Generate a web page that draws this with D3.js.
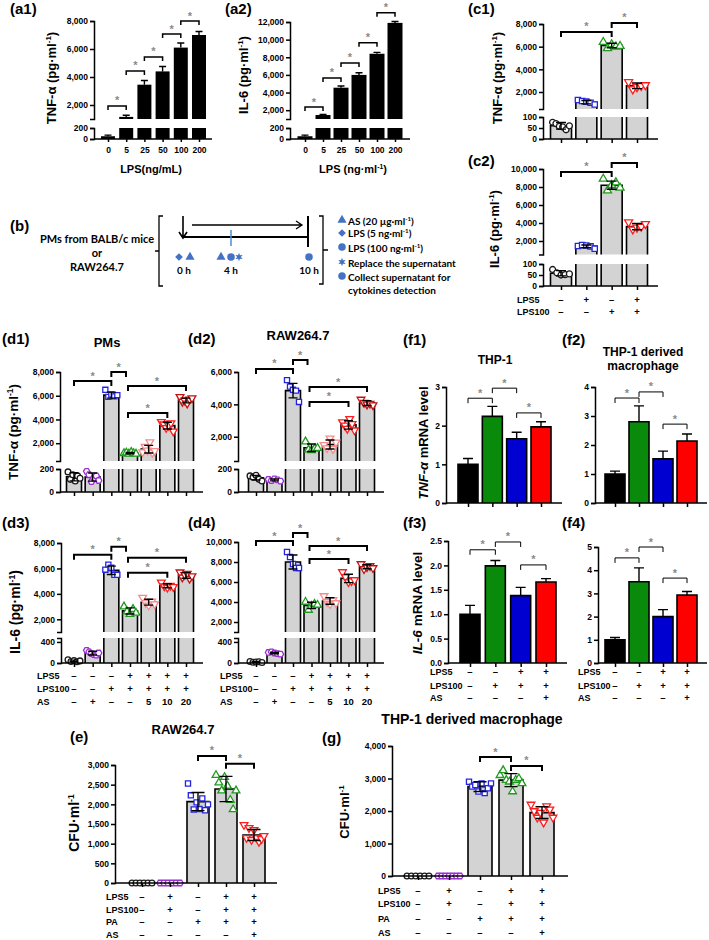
<!DOCTYPE html>
<html><head><meta charset="utf-8">
<script src="https://cdnjs.cloudflare.com/ajax/libs/d3/7.8.5/d3.min.js"></script>
<style>body{margin:0;background:#fff}svg{display:block}</style>
</head><body>
<svg id="fig" width="709" height="940"></svg>
<script>
// ================= DATA =================
const lpsDoses = ["0","5","25","50","100","200"];
const a1Tnf    = [50, 1150, 3450, 4400, 6100, 7000];
const a1TnfErr = [20, 120, 300, 350, 330, 250];
const a2Il6    = [50, 1450, 4550, 6000, 8400, 11900];
const a2Il6Err = [20, 80, 200, 250, 150, 150];
const a1Brackets = [[0,1,1930],[1,2,4430],[2,3,5430],[3,4,7070],[4,5,8000]];
const a2Brackets = [[0,1,2360],[1,2,5660],[2,3,7360],[3,4,9640],[4,5,13050]];

const cLps5   = ["–","+","–","+"];
const cLps100 = ["–","–","+","+"];
const c1Mean = [60, 1100, 6100, 2550];
const c1Sd   = [15, 150, 200, 250];
const c1Points = [[76,70,58,55,42,60],[1300,1200,1150,1050,900],[6400,5850,6200,6000,6050],[2880,2240,2440,2540,2610]];
const c2Mean = [58, 1400, 8200, 3600];
const c2Sd   = [12, 150, 450, 350];
const c2Points = [[75,60,50,52,55],[1450,1550,1500,1400,1150],[8900,7600,8200,8500,7900],[4100,3300,3500,3600,3900]];
const c1Brackets = [[0,2,7300],[2,3,8090]];
const c2Brackets = [[0,2,9670],[2,3,10670]];

const dLps5   = ["–","–","–","+","+","+","+"];
const dLps100 = ["–","–","+","+","+","+","+"];
const dAs     = ["–","+","–","–","5","10","20"];
const d1Mean = [132, 130, 6050, 1160, 1500, 3480, 5600];
const d1Sd   = [35, 35, 250, 60, 320, 280, 200];
const d1Points = [[175,110,150,95,140,120],[180,150,90,120,140,100],[6500,5900,6100,5950,6050],[1150,1200,1100,1250,1150,1100],[1250,1700,1400,2100,1200,1350],[3800,3600,3300,3500,3700,3000],[5900,5500,5600,5350,5700,5800]];
const d2Mean = [124, 105, 4850, 1320, 1520, 2730, 4080];
const d2Sd   = [20, 8, 450, 230, 280, 260, 150];
const d2Points = [[140,130,145,110,95],[110,100,115,105,95],[5500,5100,4900,4850,4150],[1700,1200,1150,1250,1300],[1500,1300,1900,1250,1650],[2900,2700,2500,3100,2800,2400],[4300,4100,4000,4050,3950]];
const d3Mean = [40, 188, 5850, 2660, 3340, 4640, 5450];
const d3Sd   = [15, 35, 330, 240, 230, 160, 220];
const d3Points = [[60,30,45,25,40],[240,210,180,160,150,190],[5900,6300,6050,5500,5500],[3000,2600,2400,2800,2500],[3700,3300,3100,3400,3200],[4900,4600,4500,4650,4550],[5700,5300,5500,5600,5200,5400]];
const d4Mean = [20, 190, 8000, 3660, 4100, 6360, 7520];
const d4Sd   = [8, 15, 700, 320, 330, 420, 200];
const d4Points = [[30,15,20,25,10],[200,210,190,180,170],[9000,8500,7800,7400,7400],[4000,3200,3600,3800,3700],[4600,4000,3800,4200,3900],[7000,6500,6000,6100,6200],[7800,7300,7500,7600,7400]];
const d1Brackets = [[0,2,7240],[2,3,8000],[3,6,6820],[3,5,4540]];
const d2Brackets = [[0,2,6190],[2,3,6740],[3,6,5070],[3,5,4150]];
const d3Brackets = [[0,2,7080],[2,3,7710],[3,6,6840],[3,5,5660]];
const d4Brackets = [[0,2,10100],[2,3,10900],[3,6,9600],[3,5,8300]];

const fLps5   = ["–","–","+","+"];
const fLps100 = ["–","+","+","+"];
const fAs     = ["–","–","–","+"];
const f1Mean = [1.0, 2.24, 1.66, 1.97]; const f1Err = [0.15, 0.26, 0.17, 0.13];
const f2Mean = [1.0, 2.8, 1.52, 2.14];  const f2Err = [0.1, 0.55, 0.27, 0.24];
const f3Mean = [1.0, 1.99, 1.38, 1.66]; const f3Err = [0.18, 0.11, 0.17, 0.07];
const f4Mean = [1.0, 3.5, 2.0, 2.93];   const f4Err = [0.1, 0.6, 0.3, 0.15];
const f1Brackets = [[0,1,2.71],[1,2,2.97],[2,3,2.33]];
const f2Brackets = [[0,1,3.62],[1,2,3.83],[2,3,2.72]];
const f3Brackets = [[0,1,2.32],[1,2,2.48],[2,3,2.01]];
const f4Brackets = [[0,1,4.53],[1,2,5.0],[2,3,3.66]];

const egLps5   = ["–","+","–","+","+"];
const egLps100 = ["–","+","–","+","+"];
const egPa     = ["–","–","+","+","+"];
const egAs     = ["–","–","–","–","+"];
const eMean = [0, 0, 2070, 2390, 1220];
const eSd   = [0, 0, 230, 320, 140];
const ePoints = [[0,0,0,0,0,0],[0,0,0,0,0,0],[2530,2230,1870,2050,1880,2150,1850,2000],[2740,2550,2350,2690,2470,2110,1870,2350],[1480,1150,1400,1100,1350,1150,1050,1120,1200]];
const gMean = [0, 0, 2750, 2950, 1950];
const gSd   = [0, 0, 150, 200, 180];
const gPoints = [[0,0,0,0,0,0],[0,0,0,0,0,0,0],[2900,2750,2800,2600,2850,2550,2700,2850],[3100,3250,2950,2900,2600,2950,3000,2850],[2200,2000,1800,1950,1650,2150,2050,1800]];
const eBrackets = [[2,3,3230],[3,4,3030]];
const gBrackets = [[2,3,3660],[3,4,3385]];

// ================= DRAWING =================
const svg = d3.select("#fig");
const FONT = '"Liberation Sans", Arial, Helvetica, sans-serif';
const BFONT = 'Lato, "Liberation Sans", sans-serif';
const COL = {black:"#1a1a1a", purple:"#9b30d0", blue:"#2424e0", green:"#1f9a1f", pink:"#f48c8c", red:"#ff1c1c", dred:"#c41212"};
const STAR = "#8a8a8a";

function addText(x, y, str, size, opt = {}) {
  return svg.append("text").attr("x", x).attr("y", y).attr("font-size", size)
    .attr("text-anchor", opt.anchor || "start").attr("font-family", opt.family || FONT)
    .attr("font-weight", opt.weight || "bold").attr("fill", opt.fill || "#000").text(str);
}
function richText(t, parts, size) {
  let shifted = false;
  parts.forEach(p => {
    const ts = t.append("tspan").text(p.t);
    if (p.sup) { ts.attr("dy", -size * 0.38).attr("font-size", size * 0.62); shifted = true; }
    else if (shifted) { ts.attr("dy", size * 0.38); shifted = false; }
    if (p.i) ts.attr("font-style", "italic");
  });
}
function yLabel(x, y, parts, size) {
  const t = svg.append("text").attr("transform", `translate(${x},${y}) rotate(-90)`)
    .attr("text-anchor", "middle").attr("font-size", size).attr("font-family", FONT).attr("font-weight", "bold");
  richText(t, parts, size);
}
const hexType = {draw(ctx, size) { const r = Math.sqrt(size / 2.598);
  for (let k = 0; k < 6; k++) { const a = k * Math.PI / 3, px = r * Math.cos(a), py = r * Math.sin(a); k ? ctx.lineTo(px, py) : ctx.moveTo(px, py); } ctx.closePath(); }};
const star6 = {draw(ctx, size) { const r = Math.sqrt(size) * 0.7, r2 = r * 0.45;
  for (let k = 0; k < 12; k++) { const a = k * Math.PI / 6 - Math.PI / 2, rr = k % 2 ? r2 : r; const px = rr * Math.cos(a), py = rr * Math.sin(a); k ? ctx.lineTo(px, py) : ctx.moveTo(px, py); } ctx.closePath(); }};
const shapeMap = {circle:[d3.symbolCircle,0], square:[d3.symbolSquare,0], tri:[d3.symbolTriangle,0], dtri:[d3.symbolTriangle,180], hex:[hexType,0], diamond:[d3.symbolSquare,45], star:[star6,0]};
function marker(g, shape, x, y, size, color, filled) {
  const [type, rot] = shapeMap[shape];
  const p = g.append("path").attr("d", d3.symbol().type(type).size(size)())
    .attr("transform", `translate(${x},${y}) rotate(${rot})`);
  if (filled) p.attr("fill", color).attr("stroke", "none");
  else p.attr("fill", "#fff").attr("stroke", color).attr("stroke-width", 1.3);
}

function drawPanel(c) {
  const g = svg.append("g");
  const n = c.values.length;
  const x = d3.scalePoint().domain(d3.range(n)).range(c.xr);
  const yU = d3.scaleLinear().domain(c.upper.d).range(c.upper.r);
  const yL = c.lower ? d3.scaleLinear().domain(c.lower.d).range(c.lower.r) : null;
  const lowMax = yL ? c.lower.d[1] : null;
  const Y = v => (yL && v <= lowMax) ? yL(v) : yU(v);
  const y0 = yL ? yL(0) : yU(0);
  const bw = c.bw;
  // bars
  c.values.forEach((v, i) => {
    if (v <= 0) return;
    const cx = x(i), L = cx - bw / 2, R = cx + bw / 2;
    const fill = c.fills ? c.fills[i] : c.fill;
    const segs = [];
    if (yL) {
      const tv = Math.min(v, lowMax);
      segs.push({top: yL(tv), bot: yL(0), closed: v <= lowMax});
      if (v > lowMax) segs.push({top: yU(v), bot: yU(c.upper.d[0]), closed: true});
    } else segs.push({top: yU(v), bot: yU(0), closed: true});
    segs.forEach(s => {
      g.append("rect").attr("x", L).attr("y", s.top).attr("width", bw).attr("height", s.bot - s.top).attr("fill", fill);
      if (c.outline) {
        const p = s.closed ? `M${L},${s.bot}V${s.top}H${R}V${s.bot}` : `M${L},${s.bot}V${s.top}M${R},${s.top}V${s.bot}`;
        g.append("path").attr("d", p).attr("fill", "none").attr("stroke", "#000").attr("stroke-width", 1.6);
      }
    });
  });
  // points
  if (c.points) c.points.forEach((pts, i) => {
    const w = c.spread || bw * 0.8;
    pts.forEach((v, k) => {
      const off = pts.length > 1 ? -w / 2 + k * w / (pts.length - 1) : 0;
      marker(g, c.shapes[i], x(i) + off, Y(v), c.msize || 30, c.colors[i], false);
    });
  });
  // error bars
  c.values.forEach((v, i) => {
    const e = c.err[i]; if (!e) return;
    const cx = x(i), hw = c.cap / 2;
    const yt = Y(v + e), yb = c.errMode === "both" ? Y(Math.max(0, v - e)) : Y(v);
    let d = `M${cx},${yb}V${yt}M${cx - hw},${yt}H${cx + hw}`;
    if (c.errMode === "both") d += `M${cx - hw},${yb}H${cx + hw}`;
    g.append("path").attr("d", d).attr("fill", "none").attr("stroke", "#000").attr("stroke-width", 1.4);
  });
  // y axes
  const fmt = c.fmt || d3.format(",");
  g.append("g").attr("transform", `translate(${c.ax},0)`)
    .call(d3.axisLeft(yU).tickValues(c.upper.t).tickFormat(fmt).tickSize(4).tickPadding(2));
  if (yL) g.append("g").attr("transform", `translate(${c.ax},0)`)
    .call(d3.axisLeft(yL).tickValues(c.lower.t).tickFormat(fmt).tickSize(4).tickPadding(2));
  // x axis
  g.append("line").attr("x1", c.ax).attr("x2", c.xEnd).attr("y1", y0).attr("y2", y0)
    .attr("stroke", "#000").attr("stroke-width", 1.6);
  const xa = g.append("g").attr("transform", `translate(0,${y0})`)
    .call(d3.axisBottom(x).tickSize(c.xlabels ? 3 : 4).tickPadding(5).tickFormat(c.xlabels ? (i => c.xlabels[i]) : () => ""));
  xa.select(".domain").remove();
  g.selectAll(".domain, .tick line").attr("stroke", "#000").attr("stroke-width", 1.5);
  g.selectAll(".tick text").attr("font-size", c.tickFont || 8.5).attr("font-family", FONT).attr("font-weight", "bold").attr("fill", "#000");
  // brackets
  (c.brackets || []).forEach(([i, j, lev]) => {
    const yb = yU(lev);
    const x1 = x(i), x2 = x(j) - (c.bShift && j === i + 1 && i === 2 && n === 7 ? 4 : 0);
    const x1b = (n === 7 && i === 3) ? x1 - 2 : x1;
    g.append("path").attr("d", `M${x1b},${yb + c.drop}V${yb}H${x2}V${yb + c.drop}`)
      .attr("fill", "none").attr("stroke", "#000").attr("stroke-width", c.bW);
    g.append("text").attr("x", (x1b + x2) / 2).attr("y", yb - 1.5).attr("text-anchor", "middle")
      .attr("font-size", 11).attr("font-family", FONT).attr("font-weight", "bold").attr("fill", STAR).text("*");
  });
  // sign rows
  (c.rows || []).forEach(r => {
    addText(c.rowX, r.y, r.label, 9);
    r.vals.forEach((s, i) => addText(x(i), r.y, s, 9.5, {anchor: "middle"}));
  });
  return {x, yU, yL};
}

const pgml = lab => [{t: lab + " (pg·ml"}, {t: "-1", sup: true}, {t: ")"}];

// ---------- (a1) (a2) ----------
addText(10, 14, "(a1)", 15);
drawPanel({values: a1Tnf, err: a1TnfErr, errMode: "up", xr: [108, 199], bw: 14, ax: 94, xEnd: 212,
  upper: {d: [1000, 8000], r: [119, 21], t: [2000, 4000, 6000, 8000]},
  lower: {d: [0, 200], r: [139, 128], t: [0, 200]},
  fill: "#000", cap: 7, brackets: a1Brackets, drop: 4, bW: 1.5, xlabels: lpsDoses, tickFont: 8.5});
yLabel(56, 78, pgml("TNF-α"), 13);
addText(151, 173, "LPS(ng/mL)", 11, {anchor: "middle"});

addText(225, 14, "(a2)", 15);
drawPanel({values: a2Il6, err: a2Il6Err, errMode: "up", xr: [305, 395], bw: 15, ax: 290, xEnd: 410,
  upper: {d: [1000, 12000], r: [119, 22], t: [2000, 4000, 6000, 8000, 10000, 12000]},
  lower: {d: [0, 200], r: [139, 128], t: [0, 200]},
  fill: "#000", cap: 7, brackets: a2Brackets, drop: 4, bW: 1.5, xlabels: lpsDoses});
yLabel(248, 75, pgml("IL-6"), 13);
(() => { const t = svg.append("text").attr("x", 353).attr("y", 173).attr("text-anchor", "middle")
  .attr("font-size", 11).attr("font-family", FONT).attr("font-weight", "bold");
  richText(t, [{t: "LPS (ng·ml"}, {t: "-1", sup: true}, {t: ")"}], 11); })();

// ---------- (c1) (c2) ----------
const cShapes = ["circle", "square", "tri", "dtri"];
const cColors = [COL.black, COL.blue, COL.green, COL.red];
addText(468, 14, "(c1)", 15);
drawPanel({values: c1Mean, err: c1Sd, errMode: "both", points: c1Points, shapes: cShapes, colors: cColors,
  xr: [561, 637], bw: 21, ax: 543, xEnd: 658,
  upper: {d: [500, 8000], r: [109, 24], t: [2000, 4000, 6000, 8000]},
  lower: {d: [0, 100], r: [139, 117], t: [0, 50, 100]},
  fill: "#d3d3d3", outline: true, cap: 10, brackets: c1Brackets, drop: 5, bW: 2, msize: 28});
yLabel(502, 78, pgml("TNF-α"), 13);
addText(468, 166, "(c2)", 15);
drawPanel({values: c2Mean, err: c2Sd, errMode: "both", points: c2Points, shapes: cShapes, colors: cColors,
  xr: [561, 637], bw: 21, ax: 543, xEnd: 658,
  upper: {d: [500, 10000], r: [254.5, 169], t: [2000, 4000, 6000, 8000, 10000]},
  lower: {d: [0, 100], r: [286, 264], t: [0, 50, 100]},
  fill: "#d3d3d3", outline: true, cap: 10, brackets: c2Brackets, drop: 5, bW: 2, msize: 28,
  rowX: 517, rows: [{label: "LPS5", vals: cLps5, y: 303}, {label: "LPS100", vals: cLps100, y: 315}]});
yLabel(499, 229, pgml("IL-6"), 13);

// ---------- (b) ----------
addText(10, 231, "(b)", 15);
const bBlue = "#4472c4";
const lineB = (d, w, col) => svg.append("path").attr("d", d).attr("fill", "none").attr("stroke", col || "#000").attr("stroke-width", w);
lineB("M163,216H159V286H163M159,251H155", 1.3);
lineB("M319,216H323V284H319M323,250H328", 1.3);
[["PMs from BALB/c mice", 243], ["or", 257], ["RAW264.7", 271]].forEach(([s, y]) => addText(97, y, s, 11, {anchor: "middle", family: BFONT}));
lineB("M183,216V238M179,232L183,238L187,232", 1.6);
lineB("M192,225H302M296,221L302,225L296,229", 1.3);
lineB("M183,237H308", 1.8);
lineB("M308,216V247", 2);
lineB("M231,230V246", 1.5, "#4a8fd6");
[["diamond", 179], ["tri", 190], ["tri", 221], ["circle", 231], ["star", 239], ["circle", 309]].forEach(([s, x]) => {
  const g = svg.append("g"); marker(g, s, x, 257, s === "circle" ? 45 : (s === "diamond" ? 30 : 36), bBlue, true); });
[["0 h", 184], ["4 h", 231], ["10 h", 309]].forEach(([s, x]) => addText(x, 274, s, 10, {anchor: "middle", family: BFONT}));
const legendB = [
  ["tri", 220, 224.5, [{t: "AS (20 µg·ml"}, {t: "-1", sup: true}, {t: ")"}]],
  ["diamond", 233, 236.5, [{t: "LPS (5 ng·ml"}, {t: "-1", sup: true}, {t: ")"}]],
  ["circle", 247, 251.5, [{t: "LPS (100 ng·ml"}, {t: "-1", sup: true}, {t: ")"}]],
  ["star", 262, 266.5, [{t: "Replace the supernatant"}]],
  ["circle", 276, 280.5, [{t: "Collect supernatant for"}]],
  [null, 0, 293.5, [{t: "cytokines detection"}]]
];
legendB.forEach(([s, my, ty, parts]) => {
  if (s) { const g = svg.append("g"); marker(g, s, 342, my, s === "circle" ? 45 : (s === "diamond" ? 30 : 36), bBlue, true); }
  const t = svg.append("text").attr("x", 348).attr("y", ty).attr("font-size", 10).attr("font-family", BFONT).attr("font-weight", "bold");
  richText(t, parts, 10);
});

// ---------- (d) ----------
const dShapes = ["circle", "hex", "square", "tri", "dtri", "dtri", "dtri"];
const dColors = [COL.black, COL.purple, COL.blue, COL.green, COL.pink, COL.red, COL.dred];
const dCommon = {errMode: "both", shapes: dShapes, colors: dColors, bw: 15, fill: "#d3d3d3", outline: true, cap: 9, drop: 5, bW: 2, msize: 26, bShift: true};
addText(2, 344, "(d1)", 15);
addText(107, 347, "PMs", 13, {anchor: "middle"});
drawPanel(Object.assign({}, dCommon, {values: d1Mean, err: d1Sd, points: d1Points, xr: [74, 186], ax: 60, xEnd: 203,
  upper: {d: [500, 8000], r: [461, 372], t: [2000, 4000, 6000, 8000]},
  lower: {d: [0, 200], r: [492, 469], t: [0, 200]}, brackets: d1Brackets}));
yLabel(18, 432, pgml("TNF-α"), 13.5);
addText(188, 344, "(d2)", 15);
addText(298, 340, "RAW264.7", 13, {anchor: "middle"});
drawPanel(Object.assign({}, dCommon, {values: d2Mean, err: d2Sd, points: d2Points, xr: [256, 367], ax: 238, xEnd: 384,
  upper: {d: [500, 6000], r: [461, 372], t: [2000, 4000, 6000]},
  lower: {d: [0, 200], r: [492, 469], t: [0, 200]}, brackets: d2Brackets}));
addText(2, 528, "(d3)", 15);
drawPanel(Object.assign({}, dCommon, {values: d3Mean, err: d3Sd, points: d3Points, xr: [74, 186], ax: 61, xEnd: 203,
  upper: {d: [1000, 8000], r: [632, 543], t: [2000, 4000, 6000, 8000]},
  lower: {d: [0, 475], r: [663, 638], t: [0, 400]}, brackets: d3Brackets,
  rowX: 37, rows: [{label: "LPS5", vals: dLps5, y: 679}, {label: "LPS100", vals: dLps100, y: 692}, {label: "AS", vals: dAs, y: 705}]}));
yLabel(20, 612, pgml("IL-6"), 14);
addText(188, 528, "(d4)", 15);
drawPanel(Object.assign({}, dCommon, {values: d4Mean, err: d4Sd, points: d4Points, xr: [256, 367], ax: 238, xEnd: 384,
  upper: {d: [1000, 10000], r: [632, 542], t: [2000, 4000, 6000, 8000, 10000]},
  lower: {d: [0, 475], r: [663, 638], t: [0, 400]}, brackets: d4Brackets,
  rowX: 220, rows: [{label: "LPS5", vals: dLps5, y: 679}, {label: "LPS100", vals: dLps100, y: 692}, {label: "AS", vals: dAs, y: 705}]}));

// ---------- (f) ----------
const fFills = ["#000000", "#0a8a0a", "#0000d0", "#ff0000"];
const fCommon = {errMode: "up", bw: 20, fills: fFills, outline: true, cap: 10, drop: 5, bW: 1};
addText(403, 345, "(f1)", 15);
addText(495, 364, "THP-1", 12, {anchor: "middle"});
drawPanel(Object.assign({}, fCommon, {values: f1Mean, err: f1Err, xr: [468, 541], ax: 446, xEnd: 562,
  upper: {d: [0, 3], r: [503, 387], t: [0, 1, 2, 3]}, fmt: d3.format("d"), brackets: f1Brackets}));
yLabel(428, 443, [{t: "TNF-α", i: true}, {t: " mRNA level"}], 13);
addText(562, 345, "(f2)", 15);
addText(643, 356, "THP-1 derived", 12, {anchor: "middle"});
addText(643, 370, "macrophage", 12, {anchor: "middle"});
drawPanel(Object.assign({}, fCommon, {values: f2Mean, err: f2Err, xr: [615, 687], ax: 595, xEnd: 707,
  upper: {d: [0, 4], r: [503, 387], t: [0, 1, 2, 3, 4]}, fmt: d3.format("d"), brackets: f2Brackets}));
addText(403, 528, "(f3)", 15);
drawPanel(Object.assign({}, fCommon, {values: f3Mean, err: f3Err, xr: [470, 546], ax: 448, xEnd: 567,
  upper: {d: [0, 2.5], r: [663, 541], t: [0, 0.5, 1, 1.5, 2, 2.5]}, fmt: d3.format(".1f"), brackets: f3Brackets,
  rowX: 430, rows: [{label: "LPS5", vals: fLps5, y: 675}, {label: "LPS100", vals: fLps100, y: 689}, {label: "AS", vals: fAs, y: 701}]}));
yLabel(422, 603, [{t: "IL-6", i: true}, {t: " mRNA level"}], 13.5);
addText(562, 528, "(f4)", 15);
drawPanel(Object.assign({}, fCommon, {values: f4Mean, err: f4Err, xr: [615, 687], ax: 598, xEnd: 707,
  upper: {d: [0, 5], r: [663, 547], t: [0, 1, 2, 3, 4, 5]}, fmt: d3.format("d"), brackets: f4Brackets,
  rowX: 578, rows: [{label: "LPS5", vals: fLps5, y: 675}, {label: "LPS100", vals: fLps100, y: 689}, {label: "AS", vals: fAs, y: 701}]}));

// ---------- (e) (g) ----------
const egShapes = ["circle", "hex", "square", "tri", "dtri"];
const egColors = [COL.black, COL.purple, COL.blue, COL.green, COL.red];
const egRows = ys => [{label: "LPS5", vals: egLps5, y: ys[0]}, {label: "LPS100", vals: egLps100, y: ys[1]}, {label: "PA", vals: egPa, y: ys[2]}, {label: "AS", vals: egAs, y: ys[3]}];
addText(70, 742, "(e)", 15);
addText(183, 734, "RAW264.7", 13, {anchor: "middle"});
drawPanel({values: eMean, err: eSd, errMode: "both", points: ePoints, shapes: egShapes, colors: egColors,
  xr: [142, 254], bw: 22, ax: 115, xEnd: 277, upper: {d: [0, 3000], r: [883, 765], t: [0, 500, 1000, 1500, 2000, 2500, 3000]},
  fill: "#d3d3d3", outline: true, cap: 13, brackets: eBrackets, drop: 5, bW: 2, msize: 26, spread: 20,
  rowX: 106, rows: egRows([900, 913, 925, 938])});
yLabel(79, 823, [{t: "CFU·ml"}, {t: "-1", sup: true}], 14);
addText(322, 743, "(g)", 15);
addText(472, 724, "THP-1 derived macrophage", 14, {anchor: "middle"});
drawPanel({values: gMean, err: gSd, errMode: "both", points: gPoints, shapes: egShapes, colors: egColors,
  xr: [418, 542], bw: 24, ax: 392, xEnd: 568, upper: {d: [0, 4000], r: [876, 746], t: [0, 1000, 2000, 3000, 4000]},
  fill: "#d3d3d3", outline: true, cap: 13, brackets: gBrackets, drop: 5, bW: 2, msize: 26, spread: 22,
  rowX: 378, rows: egRows([894, 907, 922, 936])});
yLabel(349, 812, [{t: "CFU·ml"}, {t: "-1", sup: true}], 13);
</script>
</body></html>
